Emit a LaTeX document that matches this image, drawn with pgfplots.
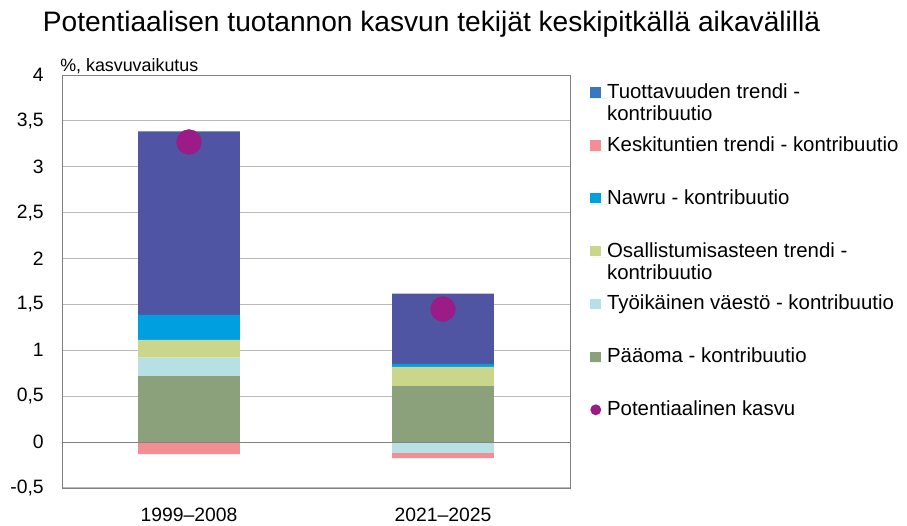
\documentclass[border=0pt]{standalone}
\usepackage{fontspec}
\setmainfont{Liberation Sans}
\usepackage{pgfplots}
\pgfplotsset{compat=1.18}
\definecolor{tuotbar}{RGB}{79,85,163}
\definecolor{tuotleg}{RGB}{55,120,192}
\definecolor{kesk}{RGB}{242,142,148}
\definecolor{nawru}{RGB}{0,160,224}
\definecolor{osall}{RGB}{201,214,139}
\definecolor{tyoik}{RGB}{182,224,227}
\definecolor{paaoma}{RGB}{138,161,123}
\definecolor{potcol}{RGB}{155,28,135}
\definecolor{gridc}{RGB}{185,185,185}
\definecolor{axisc}{RGB}{128,128,128}
\pgfplotsset{
  base/.style={
    at={(46.5pt,27.75pt)}, anchor=south west,
    scale only axis, width=381pt, height=309.75pt,
    xmin=-0.5, xmax=1.5, ymin=-0.5, ymax=4,
    ybar stacked, bar width=0.4,
  },
  sq/.style={legend image code/.code={\fill[##1] (0pt,0.5pt) rectangle (8pt,8.5pt); \path[draw=none] (0pt,0pt) -- (12.5pt,0pt);}},
}
\begin{document}
\begin{tikzpicture}
\useasboundingbox (0,0) rectangle (680.25pt,393.75pt);
\node[anchor=base west, inner sep=0pt, font=\fontsize{21.1}{25}\selectfont] at (32pt,370pt) {Potentiaalisen tuotannon kasvun tekijät keskipitkällä aikavälillä};
\node[anchor=base west, inner sep=0pt, font=\fontsize{13.4}{16}\selectfont] at (45pt,340pt) {\%, kasvuvaikutus};
% axis A: frame, grid, labels, negative parts
\begin{axis}[base,
  axis line style={axisc},
  ymajorgrids, grid style={gridc, line width=0.75pt},
  major tick length=0pt,
  xtick={0,1}, xticklabels={1999–2008,2021–2025},
  ytick={-0.5,0,0.5,1,1.5,2,2.5,3,3.5,4},
  yticklabels={{-0,5},0,{0,5},1,{1,5},2,{2,5},3,{3,5},4},
  yticklabel style={font=\fontsize{14.5}{17}\selectfont, anchor=east, inner sep=0pt, xshift=-13.5pt},
  xticklabel style={font=\fontsize{14.5}{17}\selectfont, anchor=base, inner sep=0pt, yshift=-25pt},
]
\addplot[fill=tyoik, draw=none] coordinates {(0,0) (1,-0.12)};
\addplot[fill=kesk, draw=none] coordinates {(0,-0.13) (1,-0.055)};
\end{axis}
% axis B: positive parts, dots, legend
\begin{axis}[base, hide axis,
  legend style={draw=none, fill=none, inner sep=0pt, at={(1.0394,0.98)}, anchor=north west,
    row sep=27.1pt, column sep=0pt,
    font=\fontsize{15.3}{16.5}\selectfont,
    nodes={inner sep=0pt, anchor=base west}},
]
\addplot[fill=paaoma, draw=none, forget plot] coordinates {(0,0.72) (1,0.61)};
\addplot[fill=tyoik, draw=none, forget plot] coordinates {(0,0.20) (1,0)};
\addplot[fill=osall, draw=none, forget plot] coordinates {(0,0.195) (1,0.21)};
\addplot[fill=nawru, draw=none, forget plot] coordinates {(0,0.27) (1,0.033)};
\addplot[fill=tuotbar, draw=none, forget plot] coordinates {(0,2.0) (1,0.765)};
\addplot[sharp plot, draw=axisc, line width=0.75pt, forget plot, stack plots=false] coordinates {(-0.5,0) (1.5,0)};
\addplot[only marks, mark=*, mark size=9.3pt, color=potcol, forget plot, stack plots=false] coordinates {(0,3.27) (1,1.45)};
\addlegendimage{sq, fill=tuotleg, draw=none}
\addlegendentry{\parbox[t]{240pt}{Tuottavuuden trendi -\\kontribuutio}}
\addlegendimage{sq, fill=kesk, draw=none}
\addlegendentry{\parbox[t]{240pt}{Keskituntien trendi - kontribuutio}}
\addlegendimage{sq, fill=nawru, draw=none}
\addlegendentry{\parbox[t]{240pt}{Nawru - kontribuutio}}
\addlegendimage{sq, fill=osall, draw=none}
\addlegendentry{\parbox[t]{240pt}{Osallistumisasteen trendi -\\kontribuutio}}
\addlegendimage{sq, fill=tyoik, draw=none}
\addlegendentry{\parbox[t]{240pt}{Työikäinen väestö - kontribuutio}}
\addlegendimage{sq, fill=paaoma, draw=none}
\addlegendentry{\parbox[t]{240pt}{Pääoma - kontribuutio}}
\addlegendimage{draw=none, legend image code/.code={\fill[potcol] (4pt,4.5pt) circle (4.1pt); \path[draw=none] (0pt,0pt) -- (12.5pt,0pt);}}
\addlegendentry{\parbox[t]{240pt}{Potentiaalinen kasvu}}
\end{axis}
\end{tikzpicture}
\end{document}
